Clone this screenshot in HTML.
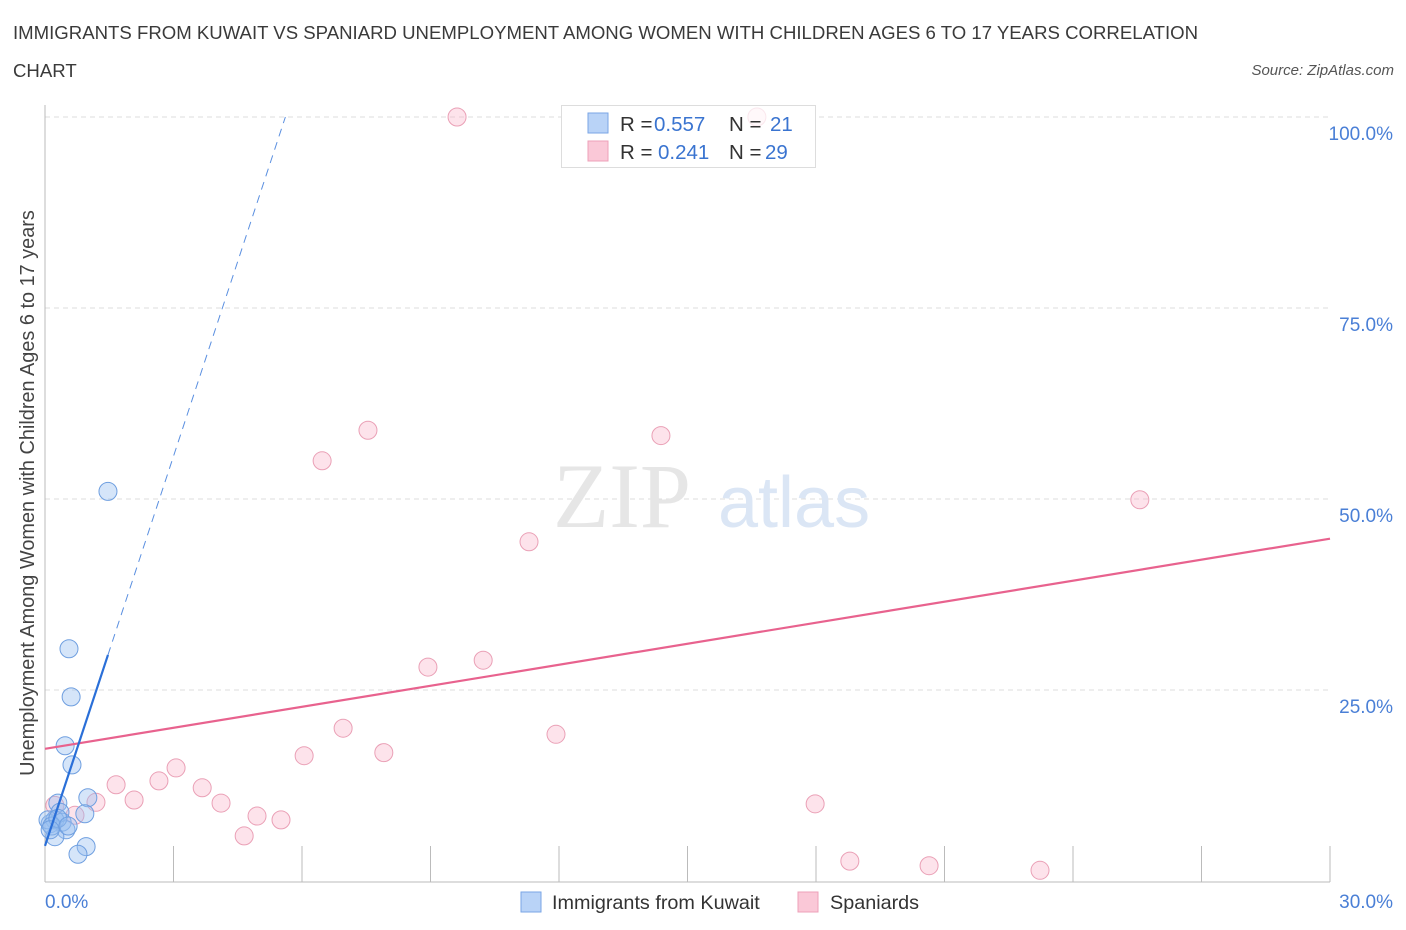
<!DOCTYPE html>
<html><head><meta charset="utf-8">
<style>
body{margin:0;background:#fff;font-family:"Liberation Sans",sans-serif;}
#wrap{position:relative;width:1406px;height:930px;overflow:hidden;}
.t{position:absolute;color:#333;}
</style></head><body>
<div id="wrap">
<div class="t" style="left:13px;top:14px;font-size:18.6px;line-height:38px;width:1205px;color:#3a3a3a">IMMIGRANTS FROM KUWAIT VS SPANIARD UNEMPLOYMENT AMONG WOMEN WITH CHILDREN AGES 6 TO 17 YEARS CORRELATION CHART</div>
<div class="t" style="right:12px;top:62px;font-size:15px;font-style:italic;color:#555">Source: ZipAtlas.com</div>
<svg id="svg" width="1406" height="930" style="position:absolute;left:0;top:0"></svg>
</div>
<script>
const xTicks=[0,30];
const yTicks=[25,50,75,100];
const blueX=[1.47,0.56,0.61,0.47,0.63,1.0,0.93,0.30,0.35,0.23,0.12,0.07,0.40,0.49,0.23,0.96,0.77,0.16,0.30,0.54,0.12];
const blueY=[51.0,30.4,24.1,17.7,15.2,10.9,8.8,10.2,9.0,8.0,7.5,8.0,7.7,6.7,5.8,4.5,3.5,7.2,8.2,7.2,6.7];
const pinkX=[9.62,16.62,7.54,14.38,6.47,25.56,11.30,10.23,8.94,6.96,11.93,7.91,6.05,3.06,2.66,1.66,3.67,2.08,1.19,4.11,4.95,5.51,4.65,17.98,18.79,20.64,23.23,0.70,0.23];
const pinkY=[100,100,59.0,58.3,55.0,49.9,44.4,28.9,28.0,20.0,19.2,16.8,16.4,14.8,13.1,12.6,12.2,10.6,10.3,10.2,8.5,8.0,5.9,10.1,2.6,2.0,1.4,8.6,9.9];
const blueTrend=[4.6,17.0]; // intercept, slope
const pinkTrend=[17.3,0.917];
const X=v=>45+v/30*1285, Y=v=>881-v/25*191;
const svg=document.getElementById('svg');const NS='http://www.w3.org/2000/svg';
function mk(tag,a,p){const e=document.createElementNS(NS,tag);for(const k in a)e.setAttribute(k,a[k]);(p||svg).appendChild(e);return e;}
yTicks.forEach(t=>{const l=mk('line',{x1:45,x2:1330,y1:Y(t),y2:Y(t),stroke:'#ddd','stroke-dasharray':'5,4'});


const tx=mk('text',{x:1393,y:Y(t)+23,'text-anchor':'end','font-size':19,fill:'#4a7fd6','font-family':'Liberation Sans'});tx.textContent=t.toFixed(1)+'%';

});
mk('line',{x1:45,x2:45,y1:105,y2:882,stroke:'#bbb'});
mk('line',{x1:45,x2:1330,y1:882,y2:882,stroke:'#bbb'});
for(let i=1;i<=10;i++){const x=45+i*128.5;mk('line',{x1:x,x2:x,y1:846,y2:882,stroke:'#bbb'});}
xTicks.forEach(t=>{const tx=mk('text',{x:t==0?45:1393,y:908,'text-anchor':t==0?'start':'end','font-size':19,fill:'#4a7fd6','font-family':'Liberation Sans'});tx.textContent=t.toFixed(1)+'%';

});
const w1=mk('text',{x:553,y:527,'font-size':92,fill:'#e6e6e6','font-family':'Liberation Serif'});w1.textContent='ZIP';
const w2=mk('text',{x:718,y:527,'font-size':72,fill:'#dbe6f5','font-family':'Liberation Sans'});w2.textContent='atlas';
const yt=mk('text',{transform:'translate(34,493) rotate(-90)','text-anchor':'middle','font-size':19.9,fill:'#444','font-family':'Liberation Sans'});yt.textContent='Unemployment Among Women with Children Ages 6 to 17 years';


// top legend (drawn before points, semi-transparent)
const g=mk('g',{});
mk('rect',{x:561.5,y:105.5,width:254,height:62,fill:'#fff',stroke:'#ddd'},g);
pinkX.forEach((v,i)=>{const c=mk('circle',{cx:X(v),cy:Y(pinkY[i]),r:9,fill:'rgba(248,176,198,0.35)',stroke:'#eaa0b6','stroke-width':1});

});
blueX.forEach((v,i)=>{const c=mk('circle',{cx:X(v),cy:Y(blueY[i]),r:9,fill:'rgba(150,190,240,0.4)',stroke:'#6f9fe0','stroke-width':1});

});
const pl=mk('line',{x1:X(0),y1:Y(pinkTrend[0]),x2:X(30),y2:Y(pinkTrend[0]+30*pinkTrend[1]),stroke:'#e8628e','stroke-width':2.2});


const xe=1.47,xd=(100-blueTrend[0])/blueTrend[1];
const bl=mk('line',{x1:X(0),y1:Y(blueTrend[0]),x2:X(xe),y2:Y(blueTrend[0]+xe*blueTrend[1]),stroke:'#2a6fd8','stroke-width':2.2});


const bd=mk('line',{x1:X(xe),y1:Y(blueTrend[0]+xe*blueTrend[1]),x2:X(xd),y2:Y(100),stroke:'#5a8fe0','stroke-width':1,'stroke-dasharray':'8,6'});


const g2=mk('g',{});
mk('rect',{x:561.5,y:105.5,width:254,height:62,fill:'rgba(255,255,255,0.75)',stroke:'#ddd'},g2);
mk('rect',{x:588,y:113,width:20,height:20,fill:'#b9d3f7',stroke:'#7aa6e6'},g2);
mk('rect',{x:588,y:141,width:20,height:20,fill:'#fac8d7',stroke:'#eea0b8'},g2);
[[131,'0.557','21',770],[159,'0.241','29',765]].forEach(r=>{
const a=mk('text',{x:620,y:r[0],'font-size':20.5,fill:'#333','font-family':'Liberation Sans'},g2);a.textContent='R =';
const b=mk('text',{x:r[1]=='0.557'?654:658,y:r[0],'font-size':20.5,fill:'#3a74d0','font-family':'Liberation Sans'},g2);b.textContent=r[1];
const c=mk('text',{x:729,y:r[0],'font-size':20.5,fill:'#333','font-family':'Liberation Sans'},g2);c.textContent='N =';
const d=mk('text',{x:r[3],y:r[0],'font-size':20.5,fill:'#3a74d0','font-family':'Liberation Sans'},g2);d.textContent=r[2];});
const b1=mk('rect',{x:521,y:892,width:20,height:20,fill:'#b9d3f7',stroke:'#7aa6e6'});

const bt1=mk('text',{x:552,y:909,'font-size':19.8,fill:'#333','font-family':'Liberation Sans'});bt1.textContent='Immigrants from Kuwait';

const b2=mk('rect',{x:798,y:892,width:20,height:20,fill:'#fac8d7',stroke:'#eea0b8'});

const bt2=mk('text',{x:830,y:909,'font-size':19.8,fill:'#333','font-family':'Liberation Sans'});bt2.textContent='Spaniards';

</script>
</body></html>
